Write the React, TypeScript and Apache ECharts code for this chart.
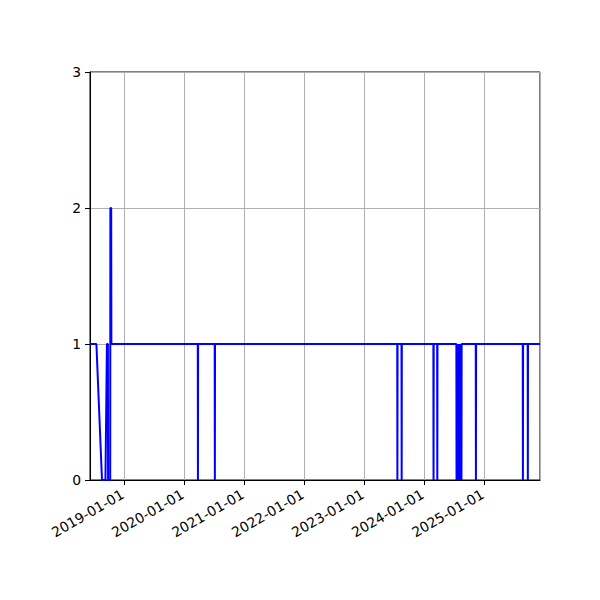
import React, { useEffect, useRef } from "react";
import * as echarts from "echarts";

const xStart = "2018-06-06";
const xEnd = "2025-12-05";

// early irregular segment
const earlyDates = [
  "2018-06-06", "2018-07-15", "2018-08-18", "2018-09-08", "2018-09-17",
  "2018-09-23", "2018-09-24", "2018-10-07", "2018-10-08", "2018-10-13", "2018-10-14",
];
const earlyValues = [1, 1, 0, 0, 1, 1, 0, 0, 2, 2, 1];

// single-day drops to 0 from the baseline of 1
const baseValue = 1;
const dipValue = 0;
const dipDates = [
  "2020-03-24", "2020-07-05", "2023-07-21", "2023-08-16", "2024-02-26",
  "2024-03-20", "2024-07-15", "2024-07-21", "2024-07-27", "2024-08-02",
  "2024-08-08", "2024-08-14", "2024-11-10", "2025-08-23", "2025-09-22",
];

const yTicks = [0, 1, 2, 3];

const DAY = 86400000;
const ts = (s: string) => {
  const [y, m, d] = s.split("-").map(Number);
  return Date.UTC(y, m - 1, d);
};
const pad = (n: number) => (n < 10 ? "0" + n : "" + n);
const fmt = (v: number) => {
  const d = new Date(v);
  return `${d.getUTCFullYear()}-${pad(d.getUTCMonth() + 1)}-${pad(d.getUTCDate())}`;
};

export default function App() {
  const ref = useRef<HTMLDivElement>(null);
  useEffect(() => {
    if (!ref.current) return;
    const chart = echarts.init(ref.current, undefined, { renderer: "svg" });
    const data: [number, number][] = earlyDates.map((d, i) => [ts(d), earlyValues[i]]);
    dipDates.forEach((d) => {
      const t = ts(d);
      data.push([t - DAY, baseValue], [t, dipValue], [t + DAY, baseValue]);
    });
    data.push([ts(xEnd), baseValue]);

    const font = "DejaVu Sans";
    chart.setOption({
      animation: false,
      useUTC: true,
      backgroundColor: "#ffffff",
      grid: {
        left: 90,
        right: 60,
        top: 72,
        bottom: 120,
        show: true,
        borderColor: "#000000",
        borderWidth: 1,
        backgroundColor: "transparent",
      },
      xAxis: {
        type: "time",
        min: ts(xStart),
        max: ts(xEnd),
        minInterval: 365 * DAY,
        maxInterval: 366 * DAY,
        splitNumber: 7,
        axisLine: { show: true, lineStyle: { color: "#000", width: 1 } },
        axisTick: { show: true, length: 5, lineStyle: { color: "#000", width: 1 } },
        axisLabel: {
          rotate: 30,
          margin: 12,
          padding: [0, 2, 0, 0],
          color: "#000",
          fontFamily: font,
          fontSize: 13.9,
          formatter: (v: number) => fmt(v),
          showMinLabel: false,
          showMaxLabel: false,
        },
        splitLine: { show: true, lineStyle: { color: "#b0b0b0", width: 1 } },
      },
      yAxis: {
        type: "value",
        min: yTicks[0],
        max: yTicks[yTicks.length - 1],
        interval: 1,
        axisLine: { show: true, lineStyle: { color: "#000", width: 1 } },
        axisTick: { show: true, length: 5, lineStyle: { color: "#000", width: 1 } },
        axisLabel: {
          margin: 9,
          color: "#000",
          fontFamily: font,
          fontSize: 13.9,
        },
        splitLine: { show: true, lineStyle: { color: "#b0b0b0", width: 1 } },
      },
      series: [
        {
          type: "line",
          data,
          showSymbol: false,
          symbol: "none",
          lineStyle: { color: "#0000ff", width: 2 },
          itemStyle: { color: "#0000ff" },
        },
      ],
    });
    return () => chart.dispose();
  }, []);
  return (
    <div
      ref={ref}
      style={{ position: "fixed", left: 0, top: 0, width: 600, height: 600 }}
    />
  );
}
